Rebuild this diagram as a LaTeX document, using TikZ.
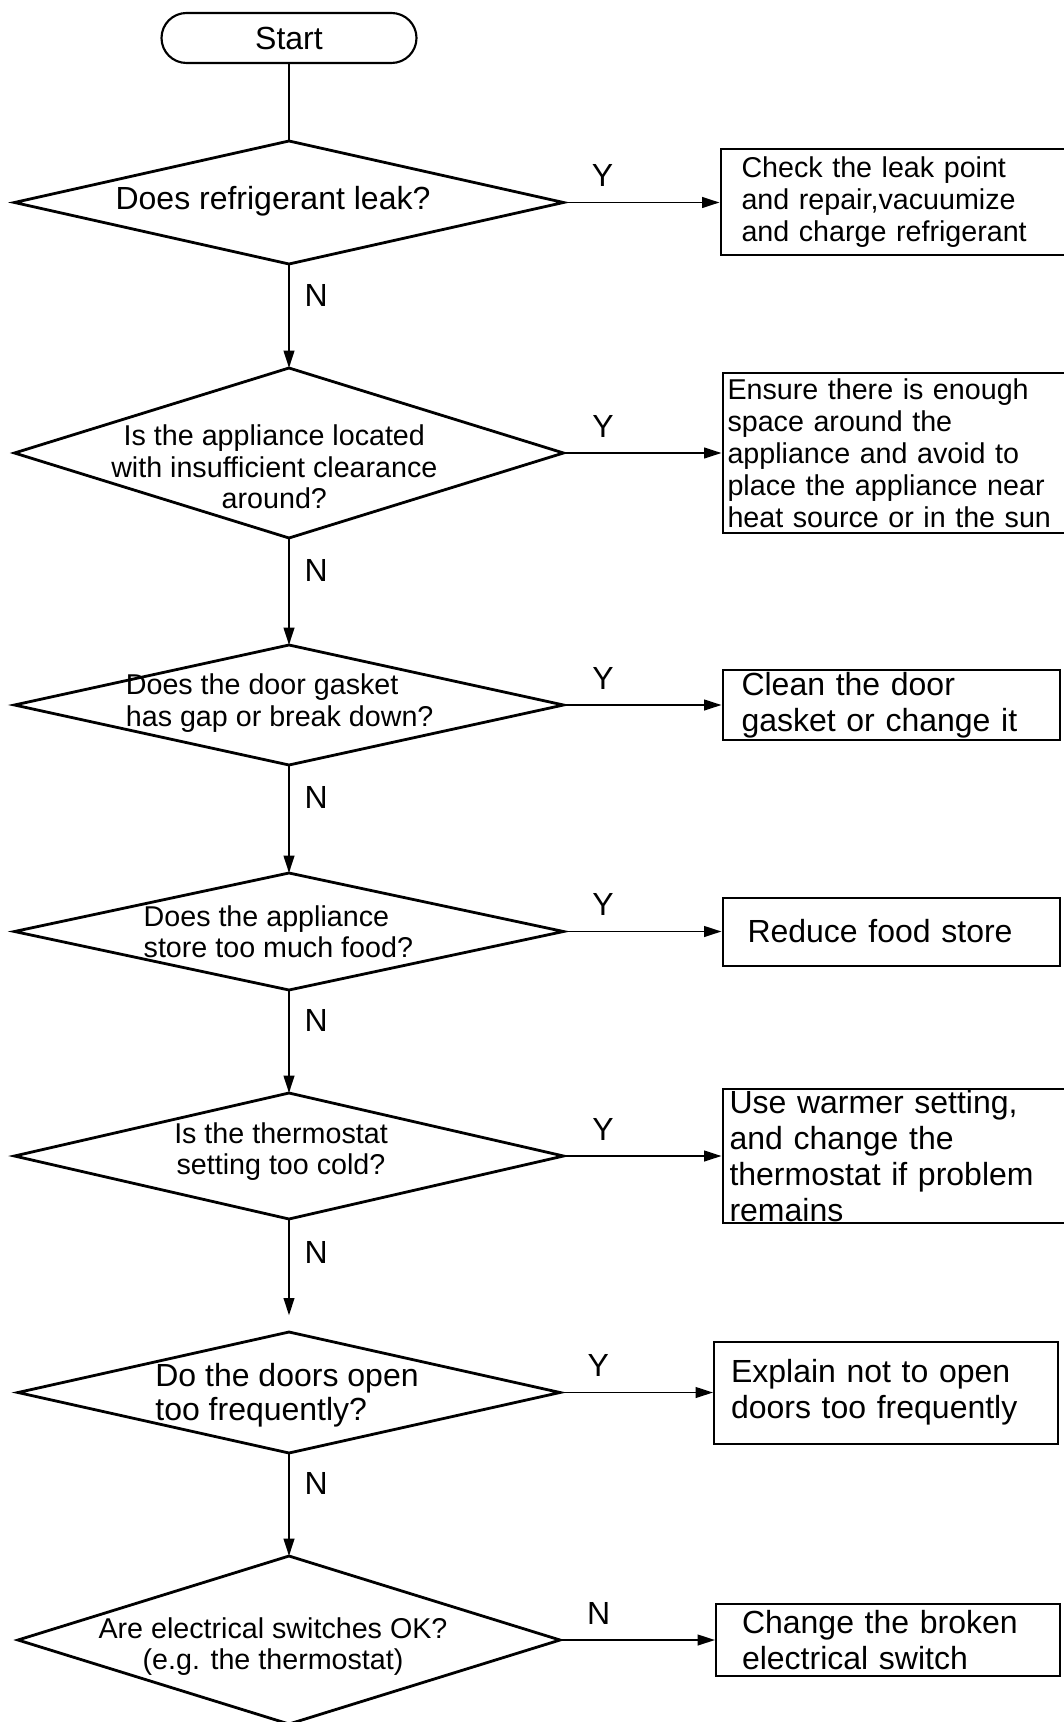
\documentclass[tikz,border=0pt]{standalone}
\usepackage{fontspec}
\setmainfont{Liberation Sans}
\usetikzlibrary{arrows.meta,positioning,shapes.geometric}
\newcommand{\bigtxt}{\fontsize{24pt}{27pt}\selectfont}
\newcommand{\smalltxt}{\fontsize{21.5pt}{23.5pt}\selectfont}
\tikzset{
    %Define standard arrow tip
    >={Triangle[length=13pt,width=8pt]},
    %Define style for the start box
    terminal/.style={
           rectangle,
           rounded corners=18.75pt,
           draw=black, line width=1.6pt,
           outer sep=0pt,
           minimum width=191.25pt,
           minimum height=37.5pt,
           font=\bigtxt,
           text centered},
    %Define style for the question diamonds
    decision/.style={
           diamond,
           draw=black, line width=2.1pt,
           outer sep=0pt,
           inner sep=0pt,
           minimum width=411.75pt},
    question/.style={
           inner sep=0pt,
           font=\smalltxt,
           align=center},
    %Define style for the remedy boxes
    action/.style={
           rectangle,
           draw=black, line width=1.5pt,
           inner ysep=0pt,
           font=\bigtxt,
           align=left},
    % Define label style for Y and N
    answer/.style={
           font=\bigtxt,
           inner sep=11pt,
           pos=0.25}
}
\begin{document}
\begin{tikzpicture}[x=0.75pt,y=-0.75pt,node distance=78pt,auto]
\useasboundingbox (0,0) rectangle (1063,1722);
 %nodes
\node[terminal](start) at (289,38){Start};
\node[decision, minimum height=92.25pt, below=58.5pt of start](d1){};
\node[decision, minimum height=127.5pt, below=of d1](d2){};
\node[decision, minimum height=90pt, below=80.25pt of d2](d3){};
\node[decision, minimum height=87.75pt, below=81pt of d3](d4){};
\node[decision, minimum height=94.5pt, below=77.25pt of d4](d5){};
\node[decision, minimum width=406.5pt, minimum height=90.75pt, below=84.75pt of d5](d6){};
\node[decision, minimum width=406.5pt, minimum height=126pt, below=77.25pt of d6](d7){};
 %texts of the questions
\node[question, font=\bigtxt, xshift=-12pt, yshift=1pt](q1) at (d1){Does refrigerant leak?};
\node[question, xshift=-11pt, yshift=-10.5pt](q2) at (d2){Is the appliance located\\with insufficient clearance\\around?};
\node[question, align=left, xshift=-7pt, yshift=1.5pt](q3) at (d3){Does the door gasket\\has gap or break down?};
\node[question, align=left, xshift=-8pt](q4) at (d4){Does the appliance\\store too much food?};
\node[question, xshift=-6pt, yshift=3.5pt](q5) at (d5){Is the thermostat\\setting too cold?};
\node[question, align=left, font=\fontsize{24pt}{26pt}\selectfont, xshift=-1.5pt, yshift=-2pt](q6) at (d6){Do the doors open\\too frequently?};
\node[question, xshift=-12pt, yshift=-5pt](q7) at (d7){Are electrical switches OK?\\(e.g. the thermostat)};
 %remedies
\node[action, font=\fontsize{21.5pt}{24pt}\selectfont, right=117pt of d1, text width=236.25pt, inner xsep=15.75pt, minimum height=79.5pt](b1){Check the leak point\\and repair,vacuumize\\and charge refrigerant};
\node[action, font=\fontsize{21.5pt}{24pt}\selectfont, right=118.5pt of d2, text width=258.75pt, inner xsep=3.75pt, minimum height=120pt](b2){Ensure there is enough\\space around the\\appliance and avoid to\\place the appliance near\\heat source or in the sun};
\node[action, right=118.5pt of d3, text width=224.25pt, inner xsep=14.25pt, minimum height=52.5pt](b3){Clean the door\\gasket or change it};
\node[action, right=118.5pt of d4, text width=215.25pt, inner xsep=18.75pt, minimum height=51pt](b4){Reduce food store};
\node[action, right=118.5pt of d5, text width=255.75pt, inner xsep=5.25pt, minimum height=100.5pt](b5){Use warmer setting,\\and change the\\thermostat if problem\\remains};
\node[action, right=114.75pt of d6, text width=232.5pt, inner xsep=12.75pt, minimum height=76.5pt](b6){Explain not to open\\doors too frequently};
\node[action, right=116.25pt of d7, text width=219pt, inner xsep=19.5pt, minimum height=54pt](b7){Change the broken\\electrical switch};
 %connectors
\draw[line width=1.4pt] (start) -- (d1);
\path[->, line width=1.4pt, every node/.style={answer}]
    (d1) edge node {Y} (b1)
    (d1) edge node[pos=0.3] {N} (d2)
    (d2) edge node {Y} (b2)
    (d2) edge node[pos=0.3] {N} (d3)
    (d3) edge node {Y} (b3)
    (d3) edge node[pos=0.3] {N} (d4)
    (d4) edge node {Y} (b4)
    (d4) edge node[pos=0.3] {N} (d5)
    (d5) edge node {Y} (b5)
    (d5) edge[shorten >=12.5pt] node[pos=0.3] {N} (d6)
    (d6) edge node {Y} (b6)
    (d6) edge node[pos=0.3] {N} (d7)
    (d7) edge node {N} (b7);
\end{tikzpicture}
\end{document}
